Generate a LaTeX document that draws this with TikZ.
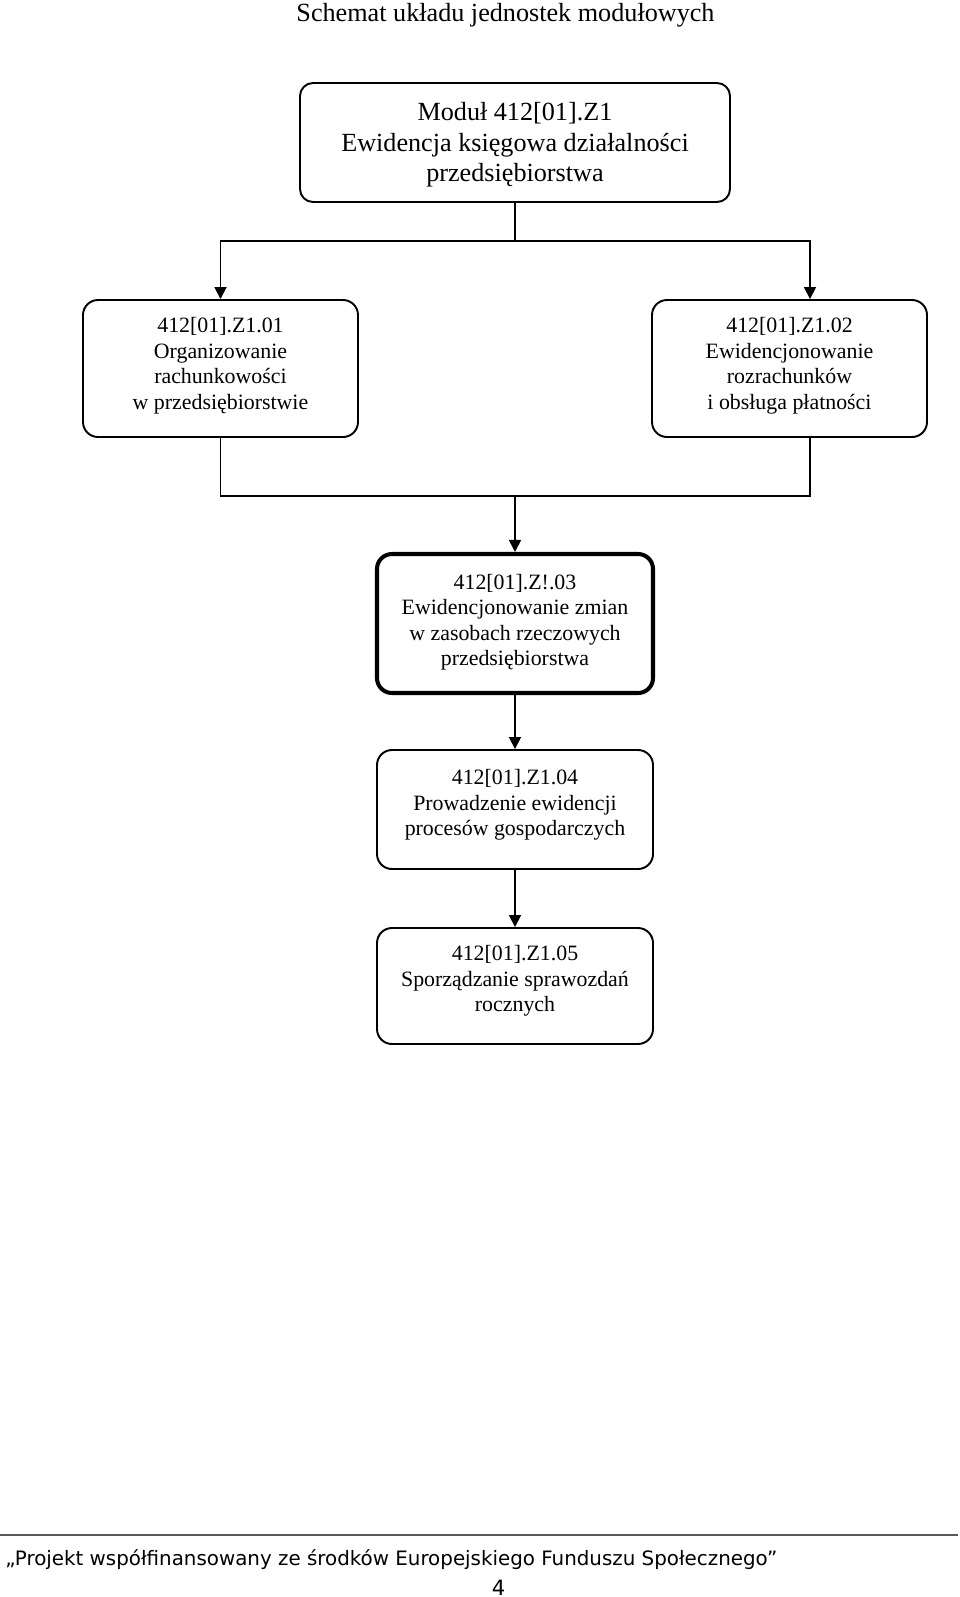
\documentclass[tikz,border=0pt]{standalone}
\usepackage{fontspec}
\setmainfont{Liberation Serif}
\newfontfamily\footfont{DejaVu Sans}
\usetikzlibrary{arrows.meta,calc}
\begin{document}
\begin{tikzpicture}[x=0.02cm,y=-0.02cm,
  box/.style={draw, line width=1.1pt, rounded corners=0.3cm, align=center, inner sep=0pt,
    font=\fontsize{12.45}{14.5}\selectfont},
  topbox/.style={box, rounded corners=0.26cm, font=\fontsize{14.9}{17.35}\selectfont},
  thickbox/.style={box, line width=2.3pt},
  conn/.style={line width=1pt},
  arr/.style={conn, -{Triangle[width=0.24cm,length=0.24cm]}}]
\useasboundingbox (0,0) rectangle (960,1597);
\node[anchor=base, font=\fontsize{14.9}{17}\selectfont] (title) at (505.5,21) {Schemat układu jednostek modułowych};
\node[topbox, minimum width=430*0.02cm, minimum height=119*0.02cm] (T) at (515,142.5)
  {\begin{tabular}{@{}c@{}}\rule{0pt}{15.3pt}Moduł 412[01].Z1\\Ewidencja księgowa działalności\\przedsiębiorstwa\end{tabular}};
\node[box, minimum width=275*0.02cm, minimum height=137*0.02cm] (A) at (220.5,368.5)
  {\begin{tabular}{@{}c@{}}412[01].Z1.01\\Organizowanie\\rachunkowości\\w przedsiębiorstwie\\[3pt]\end{tabular}};
\node[box, minimum width=275*0.02cm, minimum height=137*0.02cm] (B) at (789.5,368.5)
  {\begin{tabular}{@{}c@{}}412[01].Z1.02\\Ewidencjonowanie\\rozrachunków\\i obsługa płatności\\[3pt]\end{tabular}};
\node[thickbox, minimum width=276*0.02cm, minimum height=139*0.02cm] (C) at (515,623.5)
  {\begin{tabular}{@{}c@{}}412[01].Z!.03\\Ewidencjonowanie zmian\\w zasobach rzeczowych\\przedsiębiorstwa\\[1.5pt]\end{tabular}};
\node[box, minimum width=276*0.02cm, minimum height=119*0.02cm] (D) at (515,809.5)
  {\begin{tabular}{@{}c@{}}412[01].Z1.04\\Prowadzenie ewidencji\\procesów gospodarczych\\[5pt]\end{tabular}};
\node[box, minimum width=276*0.02cm, minimum height=116*0.02cm] (E) at (515,986)
  {\begin{tabular}{@{}c@{}}412[01].Z1.05\\Sporządzanie sprawozdań\\rocznych\\[5.5pt]\end{tabular}};
\coordinate (j1) at (515,241);
\coordinate (j2) at (515,496);
\draw[conn] (T.south) -- (j1);
\draw[arr] (j1) -| (A.north);
\draw[arr] (j1) -| ([xshift=0.41cm]B.north);
\draw[conn] (A.south) |- (j2);
\draw[conn] ([xshift=0.41cm]B.south) |- (j2);
\draw[arr] (j2) -- (C.north);
\draw[arr] (C.south) -- (D.north);
\draw[arr] (D.south) -- (E.north);
\coordinate (fl) at (0,1535);
\coordinate (fr) at (958,1535);
\draw[line width=1.1pt, black!65] (fl) -- (fr);
\node[anchor=base west, inner sep=0pt, font=\footfont\fontsize{11.3}{13}\selectfont] (foot) at (5,1565)
  {„Projekt współfinansowany ze środków Europejskiego Funduszu Społecznego”};
\node[anchor=base, inner sep=0pt, font=\footfont\fontsize{12}{14}\selectfont] (page) at (498.5,1595) {4};
\end{tikzpicture}
\end{document}
